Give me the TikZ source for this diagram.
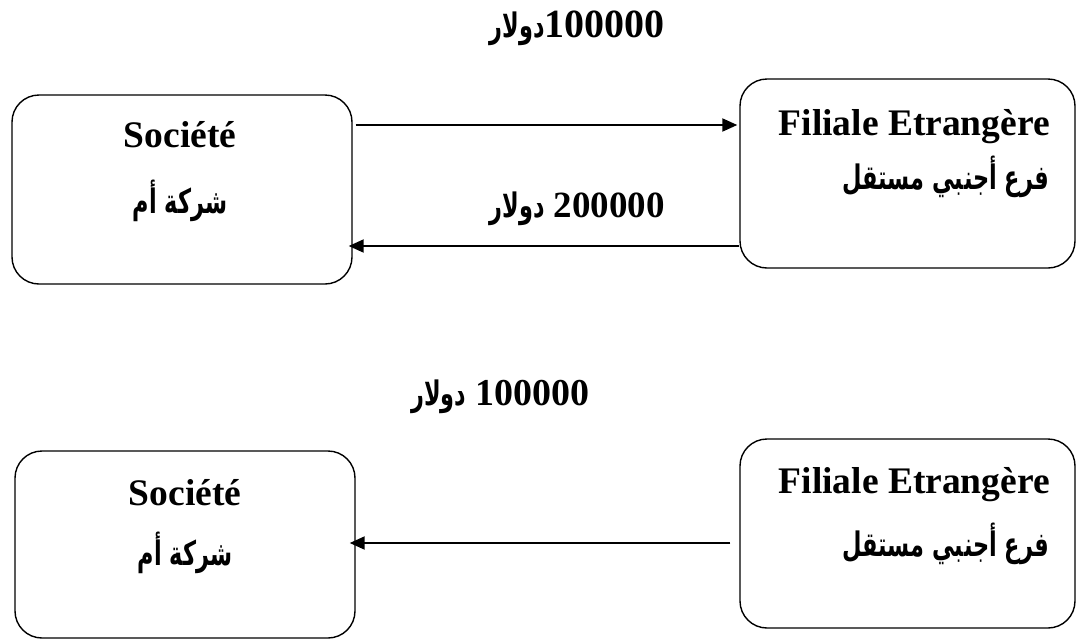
\documentclass[tikz,border=0pt]{standalone}
\usepackage{fontspec}
\setmainfont{Liberation Serif}
\newfontfamily\arabicfont[Script=Arabic]{DejaVu Sans}
\TeXXeTstate=1
\usetikzlibrary{arrows.meta}
% Arabic set narrower and taller than DejaVu's natural shape
\newcommand\arabtext[1]{\scalebox{0.83}[1.25]{\arabicfont\bfseries\beginR #1\endR}}
\newcommand\dollarword{{\fontsize{27}{30}\selectfont\arabtext{دولار}}}
\begin{document}
\begin{tikzpicture}[x=1pt,y=-1pt,
  box/.style={draw, line width=1.4pt, rounded corners=27pt, inner sep=0pt},
  lat/.style={inner sep=0pt, anchor=base, font=\fontsize{37.5}{40}\selectfont\bfseries},
  ara/.style={inner sep=0pt, anchor=base, font=\fontsize{27}{30}\selectfont},
  lbl/.style={inner sep=0pt, anchor=base east, font=\fontsize{#1}{40}\selectfont\bfseries},
  flow/.style={line width=2pt, -{Triangle[length=15pt,width=13pt]}}]
\useasboundingbox (0,0) rectangle (1077,641);

% upper pair: two-way transfers
\node[box, minimum width=340pt, minimum height=189pt] (socA) at (182,189.5) {};
\node[box, minimum width=335pt, minimum height=189pt] (filA) at (907.5,173.5) {};
\node[lat] (tSocA) at (180,147) {Société};
\node[ara] (aSocA) at (180,213) {\arabtext{شركة أم}};
\node[lat, anchor=base east] (tFilA) at (1050,135) {Filiale Etrangère};
\node[ara, anchor=base east] (aFilA) at (1049,189) {\arabtext{فرع أجنبي مستقل}};

\node[lbl=40] (m1) at (665,37) {\dollarword100000};
\node[lbl=37] (m2) at (665,217) {\dollarword\ 200000};

\coordinate (y1) at (0,125);
\coordinate (y2) at (0,246);
\draw[flow, shorten <=3pt, shorten >=2pt] (socA.east |- y1) -- (filA.west |- y1);
\draw[flow, shorten <=0pt, shorten >=-4pt] (filA.west |- y2) -- (socA.east |- y2);

% lower pair: one-way transfer
\node[box, minimum width=340pt, minimum height=187pt] (socB) at (185,544.5) {};
\node[box, minimum width=335pt, minimum height=189pt] (filB) at (907.5,533.5) {};
\node[lat] (tSocB) at (185,505) {Société};
\node[ara] (aSocB) at (185,565) {\arabtext{شركة أم}};
\node[lat, anchor=base east] (tFilB) at (1050,493) {Filiale Etrangère};
\node[ara, anchor=base east] (aFilB) at (1049,556) {\arabtext{فرع أجنبي مستقل}};

\node[lbl=38] (m3) at (590,405) {\dollarword\ 100000};

\coordinate (y3) at (0,543);
\draw[flow, shorten <=9pt, shorten >=-6pt] (filB.west |- y3) -- (socB.east |- y3);
\end{tikzpicture}
\end{document}
